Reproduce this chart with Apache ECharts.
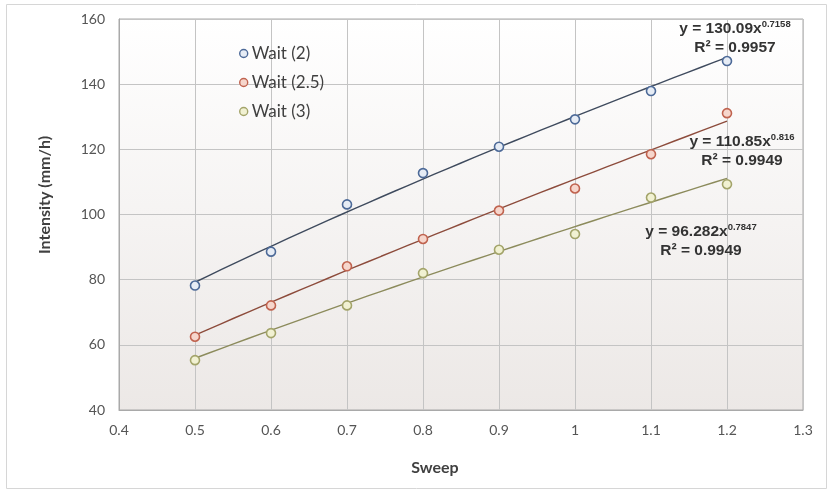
<!DOCTYPE html>
<html>
<head>
<meta charset="utf-8">
<script src="https://cdn.jsdelivr.net/npm/echarts@6/dist/echarts.min.js"></script>
<style>
  html, body { margin: 0; padding: 0; background: #fff; }
  #chart { width: 830px; height: 491px; }
</style>
</head>
<body>
<div id="chart"></div>
<script>
// Sweep settings (x) and measured intensity for each wait time
const sweep = [0.5, 0.6, 0.7, 0.8, 0.9, 1.0, 1.1, 1.2];
const wait2 = [78.2, 88.6, 103.1, 112.7, 120.8, 129.2, 137.9, 147.1];
const wait25 = [62.5, 72.1, 84.1, 92.5, 101.2, 108.0, 118.5, 131.1];
const wait3 = [55.3, 63.6, 72.1, 82.0, 89.2, 94.0, 105.2, 109.3];

const seriesNames = ['Wait (2)', 'Wait (2.5)', 'Wait (3)'];

// Power trendline coefficients y = a * x^b, with R²
const trendA = [130.09, 110.85, 96.282];
const trendB = [0.7158, 0.816, 0.7847];
const trendAText = ['130.09', '110.85', '96.282'];
const trendBText = ['0.7158', '0.816', '0.7847'];
const trendR2 = ['0.9957', '0.9949', '0.9949'];

const xTicks = [0.4, 0.5, 0.6, 0.7, 0.8, 0.9, 1.0, 1.1, 1.2, 1.3];
const yTicks = [40, 60, 80, 100, 120, 140, 160];

const xTitle = 'Sweep';
const yTitle = 'Intensity (mm/h)';

const markerStroke = ['#4d6a98', '#c0634f', '#a3a46a'];
const markerFill = ['#e6ecf5', '#f6d6cc', '#f1f1d2'];
const trendColor = ['#3f4b5e', '#8d4c3c', '#8c8b5c'];

const values = [wait2, wait25, wait3];
const uiFont = 'Lato, "Open Sans", sans-serif';
const eqFont = '"Liberation Sans", Arial, sans-serif';

function trendPoints(i) {
  const pts = [];
  const x0 = sweep[0], x1 = sweep[sweep.length - 1];
  const n = 40;
  for (let k = 0; k <= n; k++) {
    const x = x0 + (x1 - x0) * k / n;
    pts.push([x, trendA[i] * Math.pow(x, trendB[i])]);
  }
  return pts;
}

const series = [];
values.forEach((vals, i) => {
  series.push({
    name: seriesNames[i] + ' trend',
    type: 'line',
    data: trendPoints(i),
    showSymbol: false,
    silent: true,
    lineStyle: { color: trendColor[i], width: 1.4 },
    z: 2
  });
});
values.forEach((vals, i) => {
  series.push({
    name: seriesNames[i],
    type: 'scatter',
    data: sweep.map((x, k) => [x, vals[k]]),
    symbol: 'circle',
    symbolSize: 9,
    itemStyle: { color: markerFill[i], borderColor: markerStroke[i], borderWidth: 1.6, opacity: 1 },
    z: 3
  });
});

// Trendline equation labels
const eqPos = [
  { x: 735, y: 19 },
  { x: 742, y: 132 },
  { x: 701, y: 222 }
];
const graphics = [
  {
    type: 'rect',
    shape: { x: 6.5, y: 4.5, width: 820, height: 484 },
    style: { fill: 'none', stroke: '#d6d6d6', lineWidth: 1 },
    silent: true
  },
  {
    type: 'text',
    x: 435, y: 468,
    style: { text: xTitle, align: 'center', verticalAlign: 'middle', fontFamily: uiFont, fontWeight: 'bold', fontSize: 16, fill: '#404040' },
    silent: true
  },
  {
    type: 'text',
    x: 45, y: 195,
    rotation: Math.PI / 2,
    style: { text: yTitle, align: 'center', verticalAlign: 'middle', fontFamily: uiFont, fontWeight: 'bold', fontSize: 16, fill: '#404040' },
    silent: true
  }
];
eqPos.forEach((p, i) => {
  graphics.push({
    type: 'text',
    x: p.x, y: p.y,
    style: {
      text: '{m|y = ' + trendAText[i] + 'x}{s|' + trendBText[i] + '}\n{m|R² = ' + trendR2[i] + '}',
      align: 'center',
      verticalAlign: 'top',
      rich: {
        m: { fontFamily: eqFont, fontWeight: 'bold', fontSize: 15.5, fill: '#333333', lineHeight: 19 },
        s: { fontFamily: eqFont, fontWeight: 'bold', fontSize: 9.5, fill: '#333333', verticalAlign: 'top', lineHeight: 19, padding: [0, 0, 8, 0] }
      }
    },
    z: 10
  });
});

const chart = echarts.init(document.getElementById('chart'));
chart.setOption({
  animation: false,
  backgroundColor: '#ffffff',
  grid: {
    left: 119, top: 19, right: 27, bottom: 81,
    show: true,
    borderColor: '#a9a9a9',
    borderWidth: 1,
    backgroundColor: {
      type: 'linear', x: 0, y: 0, x2: 0, y2: 1,
      colorStops: [
        { offset: 0, color: '#ffffff' },
        { offset: 1, color: '#ece8e6' }
      ]
    }
  },
  legend: {
    data: seriesNames.map((n, i) => ({ name: n, icon: 'circle', itemStyle: { color: markerFill[i], borderColor: markerStroke[i], borderWidth: 1.4 } })),
    orient: 'vertical',
    left: 234,
    top: 40,
    itemWidth: 8,
    itemHeight: 8,
    itemGap: 12,
    textStyle: { fontFamily: uiFont, fontSize: 17, color: '#404040', padding: [0, 0, 0, -1] }
  },
  xAxis: {
    type: 'value',
    min: xTicks[0],
    max: xTicks[xTicks.length - 1],
    interval: 0.1,
    axisLine: { show: true, lineStyle: { color: '#a9a9a9' } },
    axisTick: { show: false },
    axisLabel: {
      margin: 13,
      fontFamily: uiFont, fontSize: 14, color: '#555',
      formatter: v => String(Number(v.toFixed(1)))
    },
    splitLine: { show: true, lineStyle: { color: '#c4c4c4', width: 1 } }
  },
  yAxis: {
    type: 'value',
    min: yTicks[0],
    max: yTicks[yTicks.length - 1],
    interval: 20,
    axisLine: { show: true, lineStyle: { color: '#a9a9a9' } },
    axisTick: { show: false },
    axisLabel: { margin: 14, fontFamily: uiFont, fontSize: 14, color: '#555' },
    splitLine: { show: true, lineStyle: { color: '#c4c4c4', width: 1 } }
  },
  graphic: graphics,
  series: series
});
</script>
</body>
</html>
